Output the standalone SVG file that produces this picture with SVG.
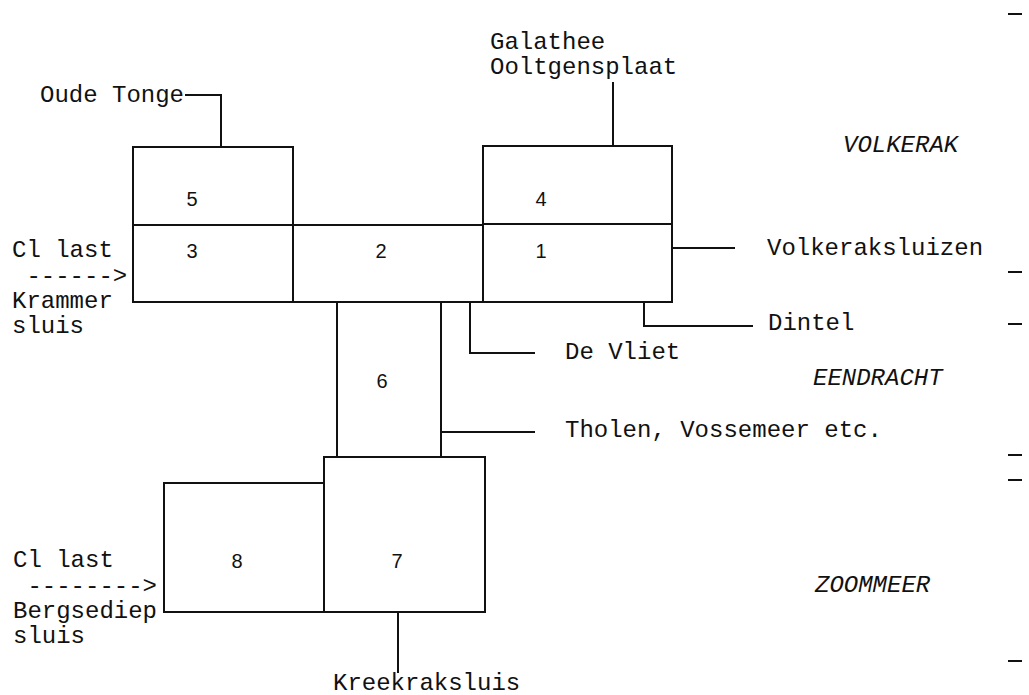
<svg xmlns="http://www.w3.org/2000/svg" width="1029" height="695" viewBox="0 0 1029 695">
<style>
.b{fill:none;stroke:#111;stroke-width:2}
.c{fill:none;stroke:#111;stroke-width:2}
.n{font-family:"Liberation Sans",Arial,sans-serif;font-size:20px;fill:#111;text-anchor:middle}
.t{font-family:"Liberation Mono","Courier New",monospace;font-size:24px;fill:#111}
.i{font-family:"Liberation Mono","Courier New",monospace;font-size:24px;font-style:italic;fill:#111}
</style>
<rect width="1029" height="695" fill="#fff"/>
<g id="node5"><rect class="b" x="133" y="147" width="160" height="78"/><text class="n" x="192" y="206">5</text></g>
<g id="node3"><rect class="b" x="133" y="225" width="160" height="77"/><text class="n" x="192" y="258">3</text></g>
<g id="node2"><rect class="b" x="293" y="225" width="190" height="77"/><text class="n" x="381" y="258">2</text></g>
<g id="node4"><rect class="b" x="483" y="146" width="189" height="78"/><text class="n" x="541" y="206">4</text></g>
<g id="node1"><rect class="b" x="483" y="224" width="189" height="78"/><text class="n" x="541" y="258">1</text></g>
<g id="node6"><rect class="b" x="337" y="302" width="104" height="155"/><text class="n" x="382" y="388">6</text></g>
<g id="node7"><rect class="b" x="324" y="457" width="161" height="155"/><text class="n" x="397" y="568">7</text></g>
<g id="node8"><rect class="b" x="164" y="483" width="160" height="129"/><text class="n" x="237" y="568">8</text></g>
<g id="connectors">
<path class="c" d="M185 95 H221 V147"/>
<path class="c" d="M613 82 V146"/>
<path class="c" d="M672 248 H735"/>
<path class="c" d="M644 302 V326 H753"/>
<path class="c" d="M470 302 V353 H535"/>
<path class="c" d="M441 432 H535"/>
<path class="c" d="M398 612 V673"/>
<path class="c" d="M1008 14 H1022 M1008 272 H1022 M1008 324 H1022 M1008 455 H1022 M1008 480 H1022 M1008 661 H1022"/>
</g>
<g id="labels">
<text class="t" x="40" y="102">Oude Tonge</text>
<text class="t" x="490" y="49">Galathee</text>
<text class="t" x="490" y="74">Ooltgensplaat</text>
<text class="i" x="843" y="152">VOLKERAK</text>
<text class="t" x="767" y="255">Volkeraksluizen</text>
<text class="t" x="768" y="330">Dintel</text>
<text class="t" x="565" y="359">De Vliet</text>
<text class="i" x="813" y="385">EENDRACHT</text>
<text class="t" x="565" y="437">Tholen, Vossemeer etc.</text>
<text class="i" x="815" y="592">ZOOMMEER</text>
<text class="t" x="333" y="690">Kreekraksluis</text>
<text class="t" x="12" y="257">Cl last</text>
<text class="t" x="12" y="283" xml:space="preserve"> ------&gt;</text>
<text class="t" x="12" y="308">Krammer</text>
<text class="t" x="12" y="333">sluis</text>
<text class="t" x="13" y="567">Cl last</text>
<text class="t" x="13" y="593" xml:space="preserve"> --------&gt;</text>
<text class="t" x="13" y="618">Bergsediep</text>
<text class="t" x="13" y="643">sluis</text>
</g>
</svg>
